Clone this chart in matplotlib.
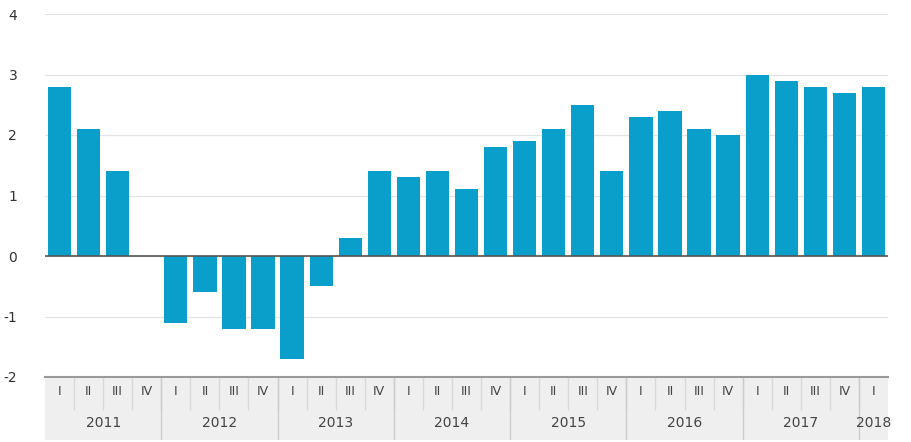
import matplotlib
matplotlib.use("Agg")
import matplotlib.pyplot as plt

years = ["2011", "2012", "2013", "2014", "2015", "2016", "2017", "2018"]
quarters = ["I", "II", "III", "IV"]
values_2011 = [2.8, 2.1, 1.4, 0.0]
values_2012 = [-1.1, -0.6, -1.2, -1.2]
values_2013 = [-1.7, -0.5, 0.3, 1.4]
values_2014 = [1.3, 1.4, 1.1, 1.8]
values_2015 = [1.9, 2.1, 2.5, 1.4]
values_2016 = [2.3, 2.4, 2.1, 2.0]
values_2017 = [3.0, 2.9, 2.8, 2.7]
values_2018 = [2.8]
yticks = [-2, -1, 0, 1, 2, 3, 4]

values = values_2011 + values_2012 + values_2013 + values_2014 + values_2015 + values_2016 + values_2017 + values_2018
per_year = [len(v) for v in [values_2011, values_2012, values_2013, values_2014, values_2015, values_2016, values_2017, values_2018]]
qlabels = []
for n in per_year:
    qlabels += quarters[:n]
x = list(range(len(values)))

W, H = 911, 442
fig = plt.figure(figsize=(W / 100, H / 100), dpi=100)
left, right = 45 / W, 888 / W
ax = fig.add_axes([left, 1 - 377 / H, right - left, (377 - 14) / H])
ax.bar(x, values, width=0.8, color="#0a9fcb", zorder=2)
ax.set_xlim(-0.5, len(values) - 0.5)
ax.set_ylim(-2, 4)
ax.set_yticks(yticks)
ax.set_yticklabels([str(t) for t in yticks], fontsize=10, color="#333333")
ax.tick_params(axis="y", length=0, pad=20)
ax.set_xticks([])
for s in ax.spines.values():
    s.set_visible(False)
ax.grid(axis="y", color="#e3e3e3", linewidth=0.9, zorder=0)
ax.axhline(0, color="#555555", linewidth=1.2, zorder=3)
ax.axhline(-2, color="#999999", linewidth=1.5, zorder=3, clip_on=False)

# category band
bx = fig.add_axes([left, 1 - 440 / H, right - left, (440 - 378) / H])
bx.set_xlim(-0.5, len(values) - 0.5)
bx.set_ylim(0, 2)
bx.axvspan(-0.5, len(values) - 0.5, color="#efefef", zorder=0)
bx.set_xticks([])
bx.set_yticks([])
for s in bx.spines.values():
    s.set_visible(False)
for i, q in enumerate(qlabels):
    bx.text(i, 1.55, q, ha="center", va="center", fontsize=9, color="#444444")
    if i > 0:
        bx.plot([i - 0.5, i - 0.5], [1.0, 2.0], color="#d9d9d9", linewidth=1)
start = 0
for yname, n in zip(years, per_year):
    if start > 0:
        bx.plot([start - 0.5, start - 0.5], [0, 2], color="#cccccc", linewidth=1)
    center = start + (n - 1) / 2
    bx.text(center, 0.55, yname, ha="center", va="center", fontsize=10, color="#444444")
    start += n

fig.savefig("out.png", dpi=100)
